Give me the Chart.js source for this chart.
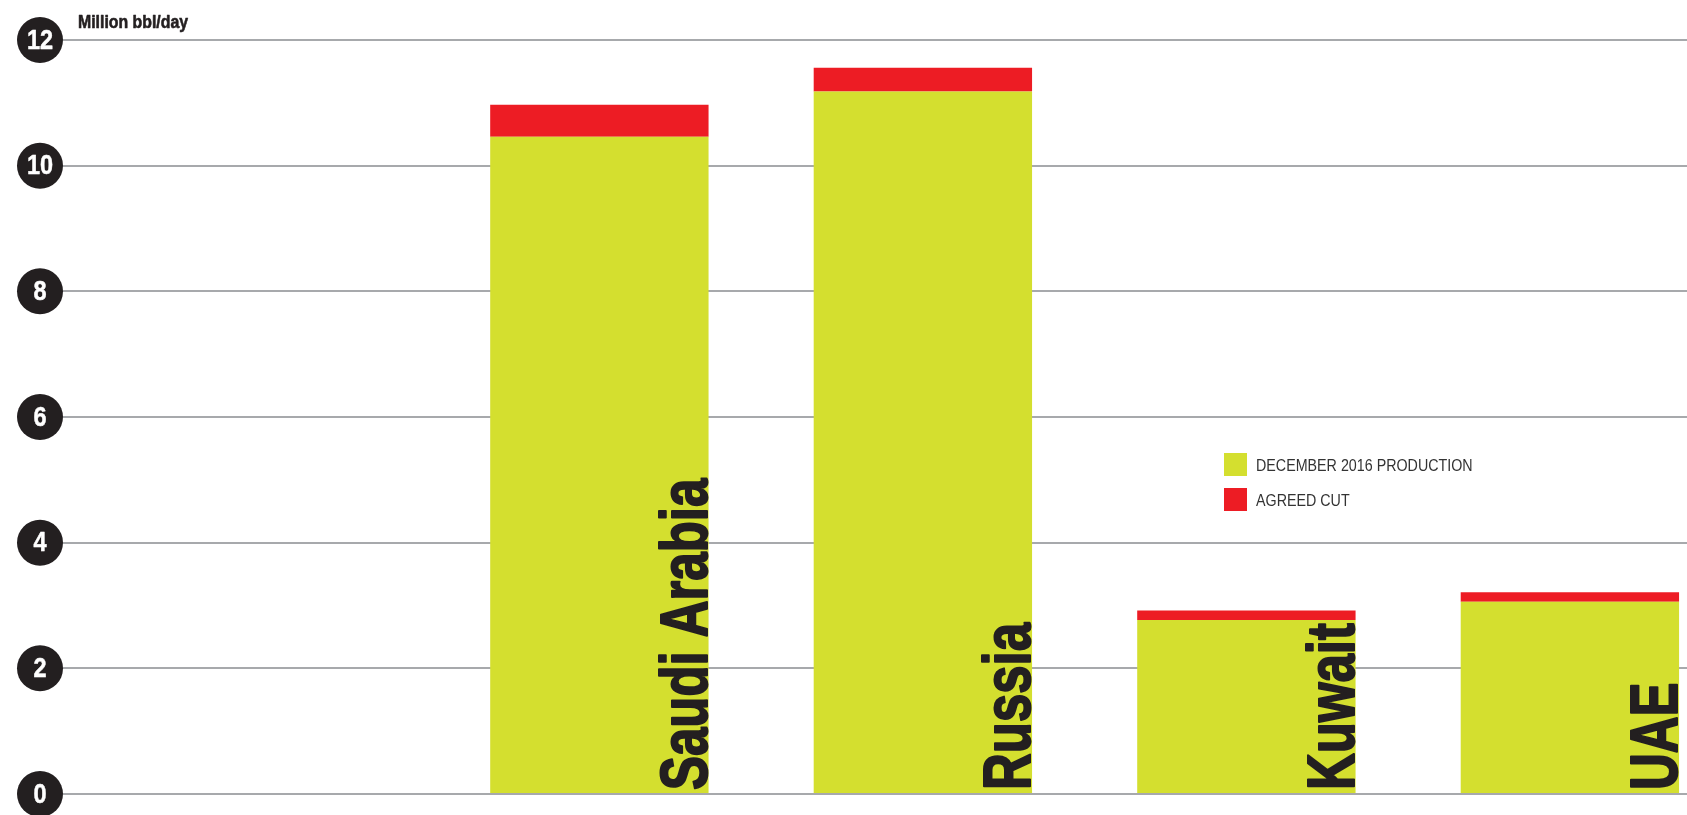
<!DOCTYPE html>
<html>
<head>
<meta charset="utf-8">
<script src="https://cdn.jsdelivr.net/npm/chart.js@4/dist/chart.umd.min.js"></script>
<style>
  html, body { margin: 0; padding: 0; background: #ffffff; }
  #wrap { width: 1687px; height: 815px; position: relative; }
</style>
</head>
<body>
<div id="wrap"><canvas id="oilChart"></canvas></div>
<script>
const countries = ["Saudi Arabia", "Russia", "Kuwait", "UAE"];
const production = [10.46, 11.18, 2.77, 3.06];
const agreedCut = [0.51, 0.38, 0.15, 0.15];
const yTicks = [0, 2, 4, 6, 8, 10, 12];
const seriesNames = ["DECEMBER 2016 PRODUCTION", "AGREED CUT"];
const unitLabel = "Million bbl/day";

const GREEN = "#d4df2f";
const RED = "#ed1c24";
const INK = "#231f20";
const SANS = '"Liberation Sans", Arial, sans-serif';

// no condensed Helvetica here, so squeeze Liberation Sans sideways
// (heavy > 0 adds an outline to fake the black weight)
function condensedText(ctx, text, x, y, factor, heavy) {
  ctx.save();
  ctx.translate(x, y);
  ctx.scale(factor, 1);
  ctx.fillText(text, 0, 0);
  if (heavy) {
    ctx.strokeStyle = ctx.fillStyle;
    ctx.lineWidth = heavy;
    ctx.lineJoin = "round";
    ctx.strokeText(text, 0, 0);
  }
  ctx.restore();
}

document.addEventListener("DOMContentLoaded", function () {
  // bars sit on a linear x scale so the empty space on the left matches the original
  const toPoints = (arr) => arr.map((v, i) => ({ x: i, y: v }));

  const decorations = {
    id: "decorations",
    afterDatasetsDraw(chart) {
      const ctx = chart.ctx;
      const meta = chart.getDatasetMeta(0);
      ctx.save();
      ctx.fillStyle = INK;
      ctx.font = "bold 67px " + SANS;
      ctx.textAlign = "left";
      ctx.textBaseline = "alphabetic";
      meta.data.forEach((bar, i) => {
        ctx.save();
        ctx.translate(bar.x + bar.width / 2 - 2, bar.base);
        ctx.rotate(-Math.PI / 2);
        condensedText(ctx, countries[i], 3, 0, 0.76, 2);
        ctx.restore();
      });
      ctx.restore();
    },
    afterDraw(chart) {
      const ctx = chart.ctx;
      const y = chart.scales.y;
      ctx.save();

      // tick circles
      y.ticks.forEach((t) => {
        const py = y.getPixelForValue(t.value);
        ctx.beginPath();
        ctx.arc(40, py, 23, 0, Math.PI * 2);
        ctx.fillStyle = INK;
        ctx.fill();
        ctx.fillStyle = "#ffffff";
        ctx.font = "bold 28px " + SANS;
        ctx.textAlign = "center";
        ctx.textBaseline = "middle";
        condensedText(ctx, String(t.value), 40, py + 1, 0.84, 0.5);
      });

      // unit label
      ctx.fillStyle = INK;
      ctx.font = "bold 18px " + SANS;
      ctx.textAlign = "left";
      ctx.textBaseline = "alphabetic";
      condensedText(ctx, unitLabel, 78, 28, 0.88, 0.6);

      // legend
      ctx.font = "17px " + SANS;
      chart.data.datasets.forEach((ds, i) => {
        const top = 453 + i * 35;
        ctx.fillStyle = ds.backgroundColor;
        ctx.fillRect(1224, top, 23, 23);
        ctx.fillStyle = "#333333";
        condensedText(ctx, ds.label, 1256, top + 18, 0.84, 0);
      });
      ctx.restore();
    },
  };

  const ctx = document.getElementById("oilChart").getContext("2d");
  new Chart(ctx, {
    type: "bar",
    data: {
      datasets: [
        {
          label: seriesNames[0],
          data: toPoints(production),
          backgroundColor: GREEN,
        },
        {
          label: seriesNames[1],
          data: toPoints(agreedCut),
          backgroundColor: RED,
        },
      ],
    },
    options: {
      responsive: true,
      maintainAspectRatio: false,
      animation: false,
      barPercentage: 0.675,
      categoryPercentage: 1,
      borderWidth: 0,
      layout: { padding: { left: 63, top: 40, right: 0, bottom: 21 } },
      scales: {
        x: {
          type: "linear",
          min: -1.658,
          max: 3.362,
          offset: false,
          stacked: true,
          display: false,
          afterBuildTicks: (axis) => {
            axis.ticks = countries.map((c, i) => ({ value: i }));
          },
        },
        y: {
          stacked: true,
          min: 0,
          max: 12,
          afterBuildTicks: (axis) => {
            axis.ticks = yTicks.map((v) => ({ value: v }));
          },
          ticks: { display: false },
          border: { display: false },
          grid: { color: "#a7a9ac", lineWidth: 2, drawTicks: false },
        },
      },
      plugins: {
        legend: { display: false },
        tooltip: { enabled: false },
      },
    },
    plugins: [decorations],
  });
});
</script>
</body>
</html>
